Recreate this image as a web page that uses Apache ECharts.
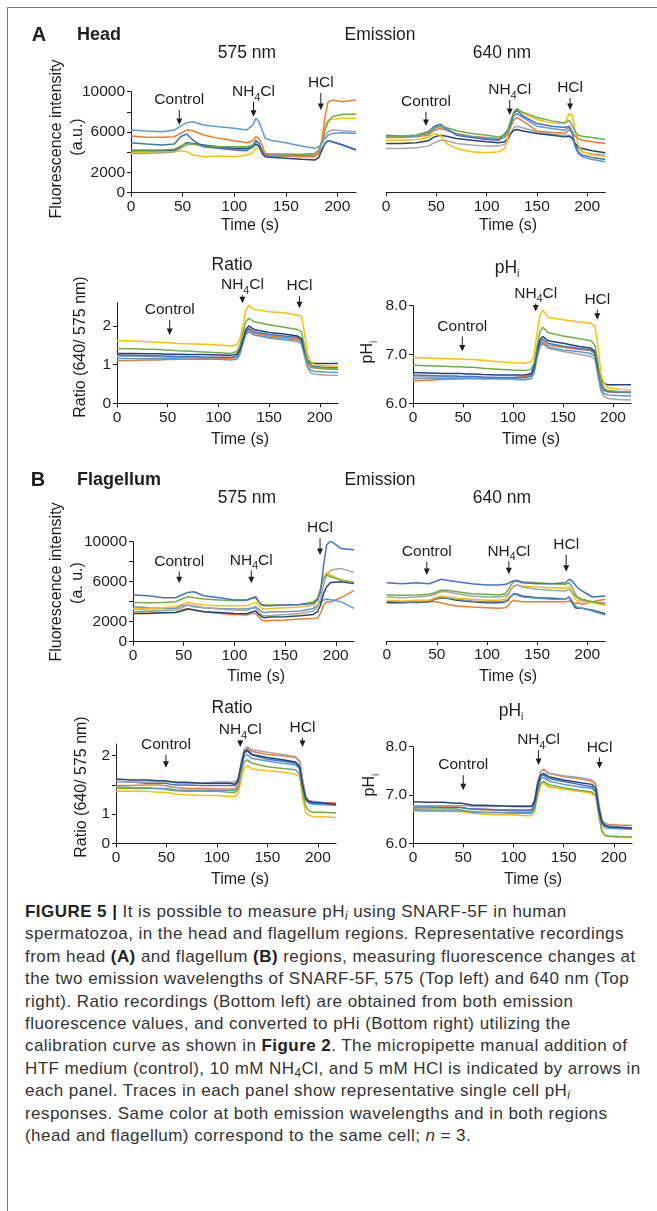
<!DOCTYPE html>
<html>
<head>
<meta charset="utf-8">
<title>Figure 5</title>
<script src="https://cdn.jsdelivr.net/npm/echarts@6.0.0/dist/echarts.min.js"></script>
<style>
  html, body { margin: 0; padding: 0; background: #fff; overflow: hidden; }
  #frame { position: absolute; left: 7px; top: 7px; width: 720px; height: 1300px; border: 1px solid #7a7a7a; }
  #chart { position: absolute; left: 0; top: 0; width: 657px; height: 900px; }
  #caption { position: absolute; left: 25px; top: 901px; font-family: "Liberation Sans", Arial, sans-serif;
    font-size: 17px; letter-spacing: 0.45px; line-height: 22.4px; color: #333; white-space: nowrap; }
  #caption b { color: #222; }
  #caption sub { font-size: 70%; line-height: 0; vertical-align: -0.25em; }
</style>
</head>
<body>
<div id="frame"></div>
<div id="chart"></div>
<div id="caption">
<b>FIGURE 5 |</b> It is possible to measure pH<sub><i>i</i></sub> using SNARF-5F in human<br>
spermatozoa, in the head and flagellum regions. Representative recordings<br>
from head <b>(A)</b> and flagellum <b>(B)</b> regions, measuring fluorescence changes at<br>
the two emission wavelengths of SNARF-5F, 575 (Top left) and 640 nm (Top<br>
right). Ratio recordings (Bottom left) are obtained from both emission<br>
fluorescence values, and converted to pHi (Bottom right) utilizing the<br>
calibration curve as shown in <b>Figure 2</b>. The micropipette manual addition of<br>
HTF medium (control), 10 mM NH<sub>4</sub>Cl, and 5 mM HCl is indicated by arrows in<br>
each panel. Traces in each panel show representative single cell pH<sub><i>i</i></sub><br>
responses. Same color at both emission wavelengths and in both regions<br>
(head and flagellum) correspond to the same cell; <i>n</i> = 3.
</div>
<script>
// sample times (s), shared by every trace
const times = [0, 15, 30, 42, 48, 54, 60, 70, 85, 100, 112, 118, 121, 124, 127, 130, 135, 150, 165, 178, 182, 185, 188, 191, 195, 205, 218];

const cellColors = {
  orange: '#ED7D31', lightBlue: '#5B9BD5', gray: '#A5A5A5', yellow: '#FFC000',
  blue: '#4472C4', green: '#70AD47', navy: '#264478'
};

// A, head, 575 nm (a.u.)
const head575 = {
  yellow:    [3960, 3960, 3960, 4030, 4160, 4060, 3730, 3560, 3630, 3560, 3730, 3960, 4390, 4390, 4060, 3830, 3730, 3730, 3730, 3830, 4160, 5210, 6530, 7200, 7260, 7360, 7360],
  gray:      [3890, 3890, 3960, 4060, 4390, 4720, 4820, 4620, 4390, 4290, 4290, 4490, 4820, 4620, 4160, 3830, 3760, 3760, 3730, 3830, 4220, 5050, 5710, 6040, 6200, 6140, 6040],
  navy:      [4160, 4160, 4160, 4220, 4550, 4950, 4880, 4720, 4550, 4390, 4390, 4550, 4820, 4620, 3890, 3560, 3500, 3400, 3300, 3230, 3500, 4220, 4880, 5150, 5050, 4720, 4220],
  green:     [4220, 4220, 4220, 4290, 4620, 4880, 4820, 4620, 4550, 4550, 4550, 4720, 5050, 4880, 4220, 3890, 3830, 3830, 3800, 3890, 4220, 5050, 6200, 7030, 7520, 7760, 7760],
  blue:      [4950, 4820, 4720, 4820, 5540, 5810, 5210, 4550, 4390, 4220, 4160, 4550, 5210, 4880, 4060, 3730, 3630, 3630, 3630, 3630, 3890, 4390, 4880, 5150, 5050, 4720, 4290],
  orange:    [5610, 5480, 5480, 5540, 5870, 6200, 6140, 5710, 5380, 5150, 4950, 5150, 5540, 5380, 4720, 3830, 3730, 3630, 3560, 3560, 3960, 5210, 7520, 9010, 9170, 9010, 9170],
  lightBlue: [6200, 6100, 6040, 6200, 6600, 6930, 7030, 6700, 6530, 6370, 6200, 6700, 7360, 7030, 6200, 5380, 5200, 4950, 4620, 4390, 4550, 4880, 5380, 5700, 5870, 5940, 5870]
};

// A, head, 640 nm (a.u.)
const head640 = {
  gray:      [4360, 4360, 4420, 4590, 4920, 5180, 5120, 4850, 4690, 4590, 4590, 4790, 5120, 5840, 6440, 6570, 6440, 6010, 5780, 5680, 5680, 5450, 4850, 4360, 4030, 3800, 3700],
  navy:      [4850, 4850, 4920, 5120, 5510, 5680, 5580, 5350, 5180, 5020, 4920, 5020, 5350, 5840, 6170, 6240, 6110, 5840, 5680, 5510, 5580, 5350, 4850, 4520, 4360, 4130, 3930],
  yellow:    [5180, 5180, 5250, 5450, 5840, 5680, 4850, 4360, 4030, 3930, 4030, 4360, 5350, 6830, 7990, 8220, 7890, 7230, 6900, 6830, 7820, 7660, 6170, 4690, 4030, 3700, 3530],
  orange:    [5450, 5450, 5510, 5680, 6170, 6340, 6170, 5840, 5580, 5450, 5350, 5450, 5780, 6500, 7160, 7430, 7160, 6100, 5950, 5900, 6170, 6010, 5580, 5350, 5180, 5020, 4850],
  lightBlue: [5510, 5510, 5580, 5840, 6340, 6570, 6240, 5780, 5510, 5350, 5250, 5510, 6010, 6770, 7560, 7820, 7490, 6570, 6340, 6170, 6440, 5840, 4520, 3860, 3530, 3270, 3040],
  blue:      [5680, 5580, 5680, 6010, 6570, 6770, 6340, 5680, 5450, 5250, 5180, 5840, 6170, 6830, 7820, 8150, 7660, 6830, 6570, 6440, 6570, 6010, 4690, 4030, 3700, 3470, 3270],
  green:     [5580, 5580, 5680, 5910, 6440, 6570, 6440, 6110, 5840, 5680, 5510, 5680, 6170, 7160, 7990, 8320, 7990, 7430, 7100, 6900, 7160, 6670, 6010, 5680, 5580, 5450, 5250]
};

// A, head, ratio 640/575
const headRatio = {
  gray:      [1.22, 1.22, 1.21, 1.20, 1.20, 1.19, 1.19, 1.18, 1.17, 1.16, 1.16, 1.19, 1.29, 1.55, 1.79, 1.85, 1.77, 1.68, 1.64, 1.59, 1.53, 1.21, 0.91, 0.79, 0.75, 0.73, 0.72],
  orange:    [1.10, 1.11, 1.12, 1.12, 1.13, 1.13, 1.14, 1.14, 1.15, 1.16, 1.16, 1.19, 1.29, 1.55, 1.81, 1.90, 1.81, 1.74, 1.71, 1.67, 1.62, 1.29, 1.02, 0.93, 0.91, 0.89, 0.88],
  lightBlue: [1.16, 1.16, 1.15, 1.15, 1.15, 1.15, 1.15, 1.14, 1.14, 1.14, 1.12, 1.14, 1.25, 1.53, 1.78, 1.85, 1.77, 1.71, 1.67, 1.64, 1.57, 1.25, 0.95, 0.86, 0.82, 0.81, 0.80],
  blue:      [1.25, 1.24, 1.23, 1.23, 1.22, 1.22, 1.21, 1.21, 1.20, 1.19, 1.19, 1.22, 1.34, 1.59, 1.85, 1.94, 1.85, 1.78, 1.74, 1.71, 1.64, 1.34, 1.08, 0.99, 0.95, 0.93, 0.92],
  navy:      [1.29, 1.29, 1.28, 1.28, 1.27, 1.27, 1.27, 1.26, 1.26, 1.25, 1.24, 1.27, 1.38, 1.64, 1.91, 2.00, 1.91, 1.83, 1.79, 1.74, 1.68, 1.38, 1.12, 1.05, 1.03, 1.03, 1.03],
  green:     [1.42, 1.41, 1.40, 1.39, 1.38, 1.37, 1.36, 1.35, 1.33, 1.31, 1.29, 1.34, 1.48, 1.81, 2.11, 2.20, 2.11, 2.03, 1.97, 1.91, 1.85, 1.47, 1.08, 0.97, 0.92, 0.91, 0.89],
  yellow:    [1.62, 1.61, 1.59, 1.58, 1.57, 1.56, 1.55, 1.54, 1.53, 1.51, 1.48, 1.51, 1.64, 1.98, 2.41, 2.54, 2.43, 2.37, 2.34, 2.28, 2.24, 1.81, 1.29, 1.08, 0.99, 0.97, 0.95]
};

// A, head, pHi
const headPH = {
  gray:      [6.55, 6.54, 6.54, 6.53, 6.52, 6.52, 6.51, 6.50, 6.50, 6.49, 6.48, 6.51, 6.63, 6.96, 7.17, 7.22, 7.13, 7.06, 7.01, 6.96, 6.89, 6.55, 6.24, 6.14, 6.10, 6.08, 6.07],
  orange:    [6.46, 6.47, 6.49, 6.50, 6.50, 6.51, 6.51, 6.52, 6.52, 6.53, 6.55, 6.58, 6.68, 6.99, 7.22, 7.26, 7.19, 7.15, 7.11, 7.08, 7.01, 6.67, 6.35, 6.26, 6.23, 6.22, 6.22],
  lightBlue: [6.51, 6.51, 6.51, 6.51, 6.51, 6.51, 6.51, 6.51, 6.51, 6.51, 6.49, 6.51, 6.61, 6.94, 7.17, 7.23, 7.15, 7.09, 7.06, 7.02, 6.96, 6.61, 6.29, 6.20, 6.17, 6.16, 6.15],
  blue:      [6.58, 6.57, 6.56, 6.56, 6.55, 6.55, 6.55, 6.54, 6.53, 6.53, 6.53, 6.56, 6.68, 7.02, 7.26, 7.31, 7.23, 7.17, 7.13, 7.09, 7.02, 6.68, 6.38, 6.27, 6.24, 6.23, 6.22],
  navy:      [6.63, 6.62, 6.61, 6.61, 6.61, 6.60, 6.60, 6.59, 6.58, 6.58, 6.58, 6.61, 6.75, 7.09, 7.31, 7.37, 7.28, 7.23, 7.17, 7.13, 7.06, 6.75, 6.48, 6.40, 6.38, 6.38, 6.38],
  green:     [6.78, 6.77, 6.76, 6.75, 6.75, 6.74, 6.74, 6.72, 6.70, 6.68, 6.67, 6.70, 6.82, 7.17, 7.47, 7.56, 7.45, 7.38, 7.33, 7.28, 7.19, 6.82, 6.44, 6.31, 6.26, 6.24, 6.23],
  yellow:    [6.94, 6.93, 6.92, 6.91, 6.91, 6.90, 6.90, 6.88, 6.85, 6.83, 6.82, 6.85, 6.99, 7.43, 7.81, 7.91, 7.76, 7.71, 7.67, 7.64, 7.58, 7.16, 6.61, 6.40, 6.32, 6.29, 6.27]
};

// B, flagellum, 575 nm (a.u.)
const flag575 = {
  orange:    [3000, 3000, 2930, 2930, 3170, 3330, 3170, 3000, 2830, 2730, 2670, 2830, 2830, 2500, 2170, 2070, 2130, 2170, 2270, 2330, 2400, 2830, 3670, 4000, 4000, 4400, 5100],
  lightBlue: [3500, 3400, 3330, 3330, 3600, 3670, 3500, 3400, 3330, 3270, 3270, 3400, 3500, 3270, 3000, 2930, 3000, 3000, 3070, 3330, 3670, 4000, 4170, 4270, 4200, 4000, 3330],
  gray:      [3270, 3170, 3130, 3170, 3400, 3670, 3600, 3400, 3270, 3170, 3130, 3330, 3400, 3000, 2670, 2600, 2600, 2730, 2830, 3070, 3500, 4330, 5670, 6670, 7170, 7330, 6930],
  navy:      [2830, 2830, 2900, 2930, 3070, 3270, 3170, 3000, 2930, 2830, 2800, 3000, 3070, 2730, 2500, 2400, 2470, 2500, 2600, 2730, 3000, 3670, 4830, 5500, 5930, 6000, 5830],
  yellow:    [3270, 3330, 3400, 3500, 3730, 3930, 3830, 3670, 3600, 3600, 3600, 3830, 3930, 3670, 3330, 3270, 3330, 3400, 3470, 3670, 4170, 5330, 6500, 6930, 6670, 6170, 5930],
  green:     [3930, 3900, 3930, 4000, 4270, 4500, 4400, 4270, 4170, 4130, 4130, 4330, 4400, 4000, 3730, 3670, 3670, 3670, 3730, 4000, 4330, 5330, 6330, 6670, 6500, 6170, 5930],
  blue:      [4670, 4600, 4400, 4400, 4670, 4930, 5000, 4600, 4400, 4170, 4170, 4400, 4500, 4000, 3670, 3600, 3600, 3670, 3730, 3830, 4170, 5000, 7670, 9670, 10070, 9330, 9200]
};

// B, flagellum, 640 nm (a.u.)
const flag640 = {
  orange:    [3930, 3930, 3830, 3930, 3930, 3830, 3670, 3500, 3400, 3330, 3270, 3330, 3500, 3930, 4070, 4000, 3930, 3930, 3930, 3930, 4000, 3930, 3730, 3830, 3670, 3930, 4170],
  navy:      [3830, 3830, 3900, 3930, 4170, 4330, 4270, 4070, 3930, 3830, 3830, 3930, 4070, 4500, 4730, 4670, 4500, 4330, 4270, 4170, 4400, 3830, 3330, 3270, 3270, 3070, 2730],
  lightBlue: [4000, 3930, 3930, 4000, 4170, 4400, 4330, 4170, 4000, 3930, 3930, 4000, 4170, 4500, 4670, 4600, 4400, 4270, 4170, 4170, 4400, 4000, 3500, 3330, 3270, 3000, 2600],
  yellow:    [4070, 4000, 4070, 4070, 4330, 4500, 4400, 4270, 4170, 4070, 4070, 4170, 4500, 5170, 5500, 5600, 5500, 5400, 5330, 5270, 5400, 4830, 4170, 4000, 4000, 3830, 3600],
  gray:      [4400, 4330, 4400, 4500, 4670, 4930, 4930, 4730, 4500, 4400, 4400, 4500, 4670, 5170, 5500, 5600, 5400, 5170, 5070, 5000, 5170, 4830, 4500, 4270, 4070, 3930, 3830],
  green:     [4600, 4570, 4600, 4670, 4830, 5070, 5070, 4930, 4730, 4670, 4600, 4730, 5070, 5600, 6000, 6070, 5930, 5830, 5730, 5670, 5830, 5330, 4670, 4330, 4170, 3930, 3670],
  blue:      [5830, 5730, 5830, 5730, 5930, 6170, 6070, 5930, 5730, 5600, 5600, 5670, 5730, 5930, 6000, 6000, 5830, 5730, 5730, 5830, 6170, 6000, 5600, 5270, 5000, 4400, 4500]
};

// B, flagellum, ratio 640/575
const flagRatio = {
  yellow:    [1.39, 1.39, 1.39, 1.375, 1.375, 1.36, 1.34, 1.33, 1.32, 1.32, 1.30, 1.30, 1.36, 1.585, 1.78, 1.83, 1.77, 1.74, 1.72, 1.68, 1.64, 1.27, 1.03, 0.98, 0.96, 0.955, 0.94],
  green:     [1.44, 1.44, 1.44, 1.44, 1.43, 1.41, 1.40, 1.39, 1.39, 1.39, 1.375, 1.375, 1.43, 1.70, 1.89, 1.93, 1.87, 1.81, 1.78, 1.76, 1.68, 1.375, 1.13, 1.06, 1.03, 1.03, 1.02],
  lightBlue: [1.47, 1.455, 1.45, 1.44, 1.44, 1.43, 1.41, 1.41, 1.41, 1.41, 1.41, 1.41, 1.47, 1.76, 1.98, 2.02, 1.95, 1.91, 1.87, 1.84, 1.77, 1.45, 1.24, 1.19, 1.17, 1.16, 1.15],
  orange:    [1.49, 1.49, 1.50, 1.50, 1.49, 1.47, 1.45, 1.44, 1.44, 1.43, 1.43, 1.43, 1.50, 1.81, 2.08, 2.14, 2.07, 2.02, 2.00, 1.97, 1.89, 1.57, 1.30, 1.23, 1.22, 1.20, 1.19],
  blue:      [1.56, 1.55, 1.53, 1.53, 1.53, 1.51, 1.50, 1.50, 1.49, 1.49, 1.49, 1.49, 1.56, 1.83, 2.04, 2.08, 2.01, 1.94, 1.91, 1.87, 1.80, 1.47, 1.26, 1.20, 1.19, 1.18, 1.16],
  gray:      [1.56, 1.55, 1.55, 1.55, 1.55, 1.55, 1.53, 1.53, 1.53, 1.55, 1.55, 1.55, 1.61, 1.89, 2.11, 2.15, 2.10, 2.06, 2.02, 1.98, 1.91, 1.585, 1.30, 1.23, 1.20, 1.19, 1.17],
  navy:      [1.60, 1.585, 1.585, 1.57, 1.57, 1.56, 1.545, 1.545, 1.53, 1.53, 1.53, 1.51, 1.585, 1.84, 2.06, 2.10, 2.02, 1.97, 1.93, 1.89, 1.81, 1.50, 1.27, 1.22, 1.20, 1.19, 1.17]
};

// B, flagellum, pHi
const flagPH = {
  yellow:    [6.67, 6.67, 6.67, 6.66, 6.66, 6.64, 6.62, 6.60, 6.59, 6.59, 6.57, 6.57, 6.66, 6.97, 7.21, 7.24, 7.17, 7.12, 7.08, 7.03, 6.97, 6.55, 6.24, 6.16, 6.14, 6.12, 6.12],
  green:     [6.71, 6.71, 6.71, 6.71, 6.69, 6.67, 6.66, 6.64, 6.64, 6.62, 6.62, 6.62, 6.71, 7.03, 7.24, 7.28, 7.21, 7.15, 7.10, 7.06, 6.99, 6.59, 6.26, 6.17, 6.15, 6.14, 6.13],
  lightBlue: [6.69, 6.67, 6.67, 6.67, 6.67, 6.66, 6.64, 6.64, 6.64, 6.64, 6.64, 6.64, 6.74, 7.10, 7.33, 7.36, 7.29, 7.22, 7.17, 7.14, 7.06, 6.66, 6.39, 6.32, 6.31, 6.30, 6.29],
  orange:    [6.74, 6.74, 6.76, 6.76, 6.74, 6.72, 6.71, 6.69, 6.69, 6.67, 6.67, 6.67, 6.79, 7.21, 7.48, 7.54, 7.45, 7.38, 7.34, 7.29, 7.21, 6.79, 6.48, 6.41, 6.39, 6.38, 6.37],
  blue:      [6.76, 6.76, 6.74, 6.74, 6.74, 6.72, 6.71, 6.71, 6.69, 6.69, 6.69, 6.69, 6.79, 7.17, 7.38, 7.41, 7.34, 7.28, 7.22, 7.17, 7.08, 6.69, 6.43, 6.37, 6.34, 6.32, 6.31],
  gray:      [6.78, 6.78, 6.78, 6.78, 6.78, 6.78, 6.76, 6.76, 6.76, 6.78, 6.78, 6.78, 6.90, 7.28, 7.48, 7.52, 7.45, 7.40, 7.36, 7.31, 7.24, 6.83, 6.48, 6.39, 6.37, 6.34, 6.32],
  navy:      [6.86, 6.85, 6.85, 6.83, 6.83, 6.81, 6.79, 6.79, 6.78, 6.76, 6.76, 6.76, 6.86, 7.21, 7.41, 7.45, 7.38, 7.31, 7.26, 7.22, 7.14, 6.72, 6.45, 6.37, 6.34, 6.33, 6.31]
};

// tick values and labels
const timeTicks = [0, 50, 100, 150, 200];
const fluorTicks = [0, 2000, 4000, 6000, 8000, 10000];
const fluorTickLabels = ['0', '2000', '', '6000', '', '10000'];
const headRatioTicks = [0, 1, 2];
const headRatioTickLabels = ['0', '1', '2'];
const flagRatioTicks = [0.5, 1, 1.5, 2];          // broken axis: lowest tick is labelled 0
const flagRatioTickLabels = ['0', '1', '', '2'];
const pHTicks = [6, 7, 8];
const pHTickLabels = ['6.0', '7.0', '8.0'];

// additions: [label, time (s), value at arrow tip]
const head575Notes = [['Control', 46.8, 6700], ['NH4Cl', 118.7, 7520], ['HCl', 183.9, 8190]];
const head640Notes = [['Control', 39.7, 6590], ['NH4Cl', 123, 7680], ['HCl', 183, 8180]];
const headRatioNotes = [['Control', 52, 1.77], ['NH4Cl', 123.7, 2.59], ['HCl', 180, 2.46]];
const headPHNotes = [['Control', 49.3, 7.06], ['NH4Cl', 122.7, 7.88], ['HCl', 184.3, 7.71]];
const flag575Notes = [['Control', 45.6, 5840], ['NH4Cl', 116.7, 5840], ['HCl', 184.5, 8670]];
const flag640Notes = [['Control', 40, 6600], ['NH4Cl', 121.8, 6670], ['HCl', 179, 6930]];
const flagRatioNotes = [['Control', 49.5, 1.795], ['NH4Cl', 123.1, 2.15], ['HCl', 184.8, 2.15]];
const flagPHNotes = [['Control', 50, 7.10], ['NH4Cl', 125, 7.62], ['HCl', 185.7, 7.55]];

const FONT = '"Liberation Sans", Arial, Helvetica, sans-serif';
const INK = '#1e1e1e';

const panels = [
  { series: head575, notes: head575Notes, arrows: [15, 15, 17],
    grid: { left: 131, top: 91.7, width: 225, height: 101 },
    y: { min: 0, max: 10000, ticks: fluorTicks, labels: fluorTickLabels } },
  { series: head640, notes: head640Notes, arrows: [14, 15, 12],
    grid: { left: 386, top: 91.7, width: 219.3, height: 100.6 },
    y: { min: 0, max: 10000, hidden: true } },
  { series: headRatio, notes: headRatioNotes, arrows: [15, 8, 12],
    grid: { left: 117, top: 302.8, width: 221, height: 100.5 },
    y: { min: 0, max: 2.6, ticks: headRatioTicks, labels: headRatioTickLabels } },
  { series: headPH, notes: headPHNotes, arrows: [15, 8, 10],
    grid: { left: 413, top: 305.7, width: 218, height: 97.6 },
    y: { min: 6, max: 8, ticks: pHTicks, labels: pHTickLabels } },
  { series: flag575, notes: flag575Notes, arrows: [12, 13, 17],
    grid: { left: 133, top: 541.7, width: 221, height: 100 },
    y: { min: 0, max: 10000, ticks: fluorTicks, labels: fluorTickLabels } },
  { series: flag640, notes: flag640Notes, arrows: [13, 13, 17],
    grid: { left: 386.7, top: 541, width: 218.6, height: 100 },
    y: { min: 0, max: 10000, hidden: true } },
  { series: flagRatio, notes: flagRatioNotes, arrows: [13, 7, 9],
    grid: { left: 116, top: 744, width: 220, height: 99.3 },
    y: { min: 0.5, max: 2.2, ticks: flagRatioTicks, labels: flagRatioTickLabels } },
  { series: flagPH, notes: flagPHNotes, arrows: [15, 15, 11],
    grid: { left: 413, top: 746.7, width: 219, height: 96.6 },
    y: { min: 6, max: 8, ticks: pHTicks, labels: pHTickLabels } }
];

const subRich = { s: { fontSize: 10.5, fontFamily: FONT, fill: INK, lineHeight: 23, verticalAlign: 'bottom' } };

const labelFor = (ticks, labels) => (v) => {
  const i = ticks.findIndex(t => Math.abs(t - v) < 1e-9);
  return i < 0 ? '' : labels[i];
};

const grids = [], xAxes = [], yAxes = [], series = [];
panels.forEach((p, i) => {
  grids.push(Object.assign({ containLabel: false, outerBoundsMode: 'none' }, p.grid));
  xAxes.push({
    type: 'value', gridIndex: i, min: 0, max: times[times.length - 1],
    axisLine: { show: true, onZero: false, lineStyle: { color: INK, width: 1 } },
    axisTick: { show: true, length: 4, customValues: timeTicks, lineStyle: { color: INK, width: 1 } },
    axisLabel: { customValues: timeTicks, color: INK, fontSize: 15.5, fontFamily: FONT, margin: 6 },
    splitLine: { show: false }
  });
  if (p.y.hidden) {
    yAxes.push({ type: 'value', gridIndex: i, min: p.y.min, max: p.y.max, show: false, splitLine: { show: false } });
  } else {
    yAxes.push({
      type: 'value', gridIndex: i, min: p.y.min, max: p.y.max,
      axisLine: { show: true, onZero: false, lineStyle: { color: INK, width: 1 } },
      axisTick: { show: true, length: 4, customValues: p.y.ticks, lineStyle: { color: INK, width: 1 } },
      axisLabel: { customValues: p.y.ticks, formatter: labelFor(p.y.ticks, p.y.labels),
        color: INK, fontSize: 15.5, fontFamily: FONT, margin: 6 },
      splitLine: { show: false }
    });
  }
  Object.keys(p.series).forEach(name => {
    series.push({
      type: 'line', xAxisIndex: i, yAxisIndex: i, name: name,
      data: times.map((t, k) => [t, p.series[name][k]]),
      showSymbol: false, symbol: 'none', silent: true,
      lineStyle: { color: cellColors[name], width: 1.5 },
      itemStyle: { color: cellColors[name] }
    });
  });
});

const chart = echarts.init(document.getElementById('chart'));
chart.setOption({
  animation: false,
  textStyle: { fontFamily: FONT },
  grid: grids, xAxis: xAxes, yAxis: yAxes, series: series
});

const text = (str, x, y, size, opts) => Object.assign({
  type: 'text', x: x, y: y, silent: true,
  style: {
    text: str, fontSize: size, fontFamily: FONT, fontWeight: (opts && opts.bold) ? 'bold' : 'normal',
    fill: INK, align: (opts && opts.align) || 'center', verticalAlign: 'middle', rich: subRich
  }
}, (opts && opts.rotate) ? { rotation: Math.PI / 2 } : {});

const graphics = [
  text('A', 39, 35, 20, { bold: true }),
  text('Head', 77, 35, 18, { bold: true, align: 'left' }),
  text('Emission', 380, 35, 17.5),
  text('575 nm', 247, 53, 17.5),
  text('640 nm', 502, 53, 17.5),
  text('Ratio', 232, 265, 17.5),
  text('pH{s|i}', 507, 268, 17.5),
  text('B', 38, 480, 20, { bold: true }),
  text('Flagellum', 77, 480, 18, { bold: true, align: 'left' }),
  text('Emission', 380, 480, 17.5),
  text('575 nm', 247, 498, 17.5),
  text('640 nm', 502, 498, 17.5),
  text('Ratio', 232, 708, 17.5),
  text('pH{s|i}', 511, 711, 17.5),

  text('Time (s)', 250, 226, 16), text('Time (s)', 508, 226, 16),
  text('Time (s)', 240, 440, 16), text('Time (s)', 531, 440, 16),
  text('Time (s)', 256, 677, 16), text('Time (s)', 508, 677, 16),
  text('Time (s)', 240, 880, 16), text('Time (s)', 533, 880, 16),

  text('Fluorescence intensity', 57, 139, 16, { rotate: true }),
  text('(a.u.)', 78, 137, 16, { rotate: true }),
  text('Ratio (640/ 575 nm)', 81, 347, 16, { rotate: true }),
  text('pH{s|i}', 368, 352, 16, { rotate: true }),
  text('Fluorescence intensity', 57, 582, 16, { rotate: true }),
  text('(a. u.)', 78, 583, 16, { rotate: true }),
  text('Ratio (640/ 575 nm)', 82, 787, 16, { rotate: true }),
  text('pH{s|i}', 370, 785, 16, { rotate: true })
];

panels.forEach((p, i) => {
  p.notes.forEach((note, k) => {
    const pt = chart.convertToPixel({ xAxisIndex: i, yAxisIndex: i }, [note[1], note[2]]);
    const x = pt[0], y = pt[1], len = p.arrows[k];
    graphics.push({ type: 'line', silent: true, shape: { x1: x, y1: y - len, x2: x, y2: y - 5 },
      style: { stroke: INK, lineWidth: 1 } });
    graphics.push({ type: 'polygon', silent: true,
      shape: { points: [[x - 3, y - 6.5], [x + 3, y - 6.5], [x, y]] }, style: { fill: INK } });
    graphics.push(text(note[0].replace('NH4Cl', 'NH{s|4}Cl'), x, y - len - 10, 15.5));
  });
});

chart.setOption({ graphic: { elements: graphics } });
</script>
</body>
</html>
